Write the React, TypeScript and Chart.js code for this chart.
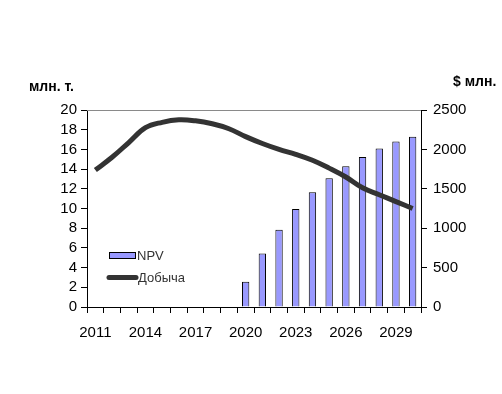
import React, { useEffect, useRef } from "react";
import { Chart, registerables } from "chart.js";

Chart.register(...registerables);

const years: string[] = [
  "2011", "2012", "2013", "2014", "2015", "2016", "2017", "2018", "2019", "2020",
  "2021", "2022", "2023", "2024", "2025", "2026", "2027", "2028", "2029", "2030",
];
const shownYears: string[] = ["2011", "2014", "2017", "2020", "2023", "2026", "2029"];
const npv: (number | null)[] = [
  null, null, null, null, null, null, null, null, null, 320,
  680, 980, 1245, 1455, 1635, 1785, 1905, 2010, 2100, 2160,
];
const production: number[] = [
  13.9, 15.2, 16.7, 18.2, 18.75, 19.0, 18.9, 18.6, 18.1, 17.3,
  16.6, 16.0, 15.5, 14.9, 14.1, 13.2, 12.1, 11.4, 10.7, 10.0,
];
const leftTitle = "млн. т.";
const rightTitle = "$ млн.";
const npvLabel = "NPV";
const productionLabel = "Добыча";

const FONT = "'Liberation Sans', Arial, sans-serif";

const decorPlugin = {
  id: "decor",
  afterDraw(chart: any) {
    const { ctx, chartArea } = chart;
    const { left, right, top } = chartArea;
    ctx.save();
    // top border
    ctx.strokeStyle = "#8a8a8a";
    ctx.lineWidth = 1;
    ctx.beginPath();
    ctx.moveTo(left, top + 0.5);
    ctx.lineTo(right, top + 0.5);
    ctx.stroke();
    // axis titles
    ctx.fillStyle = "#000";
    ctx.font = `bold 14px ${FONT}`;
    ctx.textBaseline = "middle";
    ctx.textAlign = "left";
    ctx.fillText(leftTitle, left - 58, top - 23);
    ctx.fillText(rightTitle, right + 32, top - 28);
    // legend
    const lx = left + 22;
    ctx.fillStyle = "#9999ff";
    ctx.fillRect(lx + 0.5, top + 142.5, 26, 6);
    ctx.strokeStyle = "#000";
    ctx.lineWidth = 1;
    ctx.strokeRect(lx + 0.5, top + 142.5, 26, 6);
    ctx.strokeStyle = "#333333";
    ctx.lineWidth = 5;
    ctx.lineCap = "round";
    ctx.beginPath();
    ctx.moveTo(lx, top + 167.5);
    ctx.lineTo(lx + 27, top + 167.5);
    ctx.stroke();
    ctx.fillStyle = "#333";
    ctx.font = `13px ${FONT}`;
    ctx.fillText(npvLabel, lx + 28, top + 146);
    ctx.fillText(productionLabel, lx + 29, top + 168);
    ctx.restore();
  },
};

export default function App() {
  const canvasRef = useRef<HTMLCanvasElement | null>(null);

  useEffect(() => {
    document.body.style.margin = "0";
    const canvas = canvasRef.current;
    if (!canvas) return;
    const chart = new Chart(canvas, {
      type: "bar",
      data: {
        labels: years,
        datasets: [
          {
            type: "line",
            label: productionLabel,
            data: production,
            yAxisID: "y",
            borderColor: "#333333",
            borderWidth: 5,
            pointRadius: 0,
            tension: 0.4,
            fill: false,
            order: 0,
          } as any,
          {
            type: "bar",
            label: npvLabel,
            data: npv,
            yAxisID: "y1",
            backgroundColor: "#9999ff",
            borderColor: "#000000",
            borderWidth: 1,
            barPercentage: 0.44,
            categoryPercentage: 1,
            order: 1,
          } as any,
        ],
      },
      options: {
        responsive: false,
        animation: false,
        layout: { padding: { top: 110, left: 0, right: 0, bottom: 0 } },
        plugins: {
          legend: { display: false },
          tooltip: { enabled: false },
          title: { display: false },
        },
        scales: {
          x: {
            offset: true,
            grid: {
              offset: true,
              drawOnChartArea: false,
              drawTicks: true,
              tickLength: 6,
              color: "#000",
            },
            border: { color: "#000", width: 1 },
            ticks: {
              autoSkip: false,
              maxRotation: 0,
              padding: 11,
              color: "#000",
              font: { family: FONT, size: 15 },
              callback: (_v: any, i: number) =>
                shownYears.includes(years[i]) ? years[i] : "",
            },
            afterFit: (s: any) => {
              s.height = 87;
            },
          },
          y: {
            position: "left",
            min: 0,
            max: 20,
            ticks: {
              stepSize: 2,
              autoSkip: false,
              padding: 4,
              color: "#000",
              font: { family: FONT, size: 15 },
            },
            grid: { drawOnChartArea: false, tickLength: 6, color: "#000" },
            border: { color: "#000", width: 1 },
            afterFit: (s: any) => {
              s.width = 87;
            },
          },
          y1: {
            position: "right",
            min: 0,
            max: 2500,
            ticks: {
              stepSize: 500,
              autoSkip: false,
              padding: 6,
              color: "#000",
              font: { family: FONT, size: 15 },
              callback: (v: any) => String(v),
            },
            grid: { drawOnChartArea: false, tickLength: 6, color: "#000" },
            border: { color: "#000", width: 1 },
            afterFit: (s: any) => {
              s.width = 81;
            },
          },
        },
      },
      plugins: [decorPlugin],
    });
    return () => chart.destroy();
  }, []);

  return (
    <div style={{ width: 502, height: 394, background: "#fff" }}>
      <canvas ref={canvasRef} width={502} height={394} style={{ display: "block" }} />
    </div>
  );
}
